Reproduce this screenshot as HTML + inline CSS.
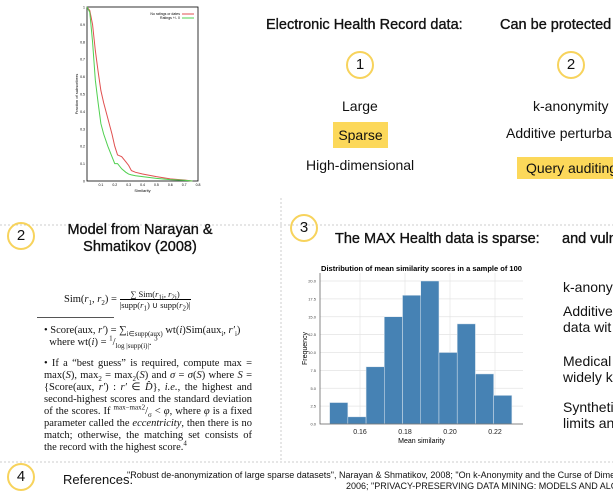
<!DOCTYPE html>
<html><head><meta charset="utf-8"><style>
body{margin:0;width:613px;height:490px;background:#fff;position:relative;overflow:hidden;font-family:"Liberation Sans",sans-serif;color:#111}
.a{position:absolute;white-space:nowrap}
.clip{overflow:hidden}
.c{position:absolute;width:24px;height:24px;border:2px solid #f7d35c;border-radius:50%;text-align:center;line-height:24px;font-size:15px;box-sizing:content-box}
.hl{background:#fcd85a}
.h{font-size:14.5px;-webkit-text-stroke:0.35px #111}
.ser{font-family:"Liberation Serif",serif;font-size:10.5px;line-height:12px}
.ser sub,.ser sup{font-size:7px;line-height:0}
</style></head><body>
<svg class="a" style="left:0;top:0" width="613" height="490">
<line x1="281" y1="198" x2="281" y2="462" stroke="#ccc" stroke-dasharray="2,2"/>
<line x1="0" y1="225" x2="613" y2="225" stroke="#ccc" stroke-dasharray="2,2"/>
<line x1="0" y1="462" x2="613" y2="462" stroke="#ccc" stroke-dasharray="2,2"/>
</svg>

<svg id="cdf" class="a" style="left:70px;top:0" width="140" height="195"></svg>

<div class="a h" style="left:266px;top:17px">Electronic Health Record data:</div>
<div class="a h clip" style="left:500px;top:17px;width:113px">Can be protected w</div>
<div class="c" style="left:346px;top:51px">1</div>
<div class="c" style="left:557px;top:51px">2</div>
<div class="a" style="left:342px;top:98px;font-size:14px">Large</div>
<div class="a hl" style="left:333px;top:122px;width:55px;height:26px;line-height:26px;text-align:center;font-size:14px">Sparse</div>
<div class="a" style="left:306px;top:157px;font-size:14px">High-dimensional</div>
<div class="a" style="left:533px;top:98px;font-size:14px">k-anonymity</div>
<div class="a clip" style="left:506px;top:125px;width:107px;font-size:14px">Additive perturba</div>
<div class="a hl clip" style="left:517px;top:157px;width:96px;height:22px;line-height:22px;font-size:14px;padding-left:9px;box-sizing:border-box">Query auditing</div>

<div class="c" style="left:7px;top:222px">2</div>
<div class="a h" style="left:60px;top:222px;width:160px;text-align:center;line-height:17px;white-space:normal">Model from Narayan &amp; Shmatikov (2008)</div>
<div class="a ser" style="left:64px;top:289px">Sim(<i>r</i><sub>1</sub>, <i>r</i><sub>2</sub>) = <span style="display:inline-block;text-align:center;vertical-align:middle;font-size:8.5px;line-height:10px"><span style="border-bottom:1px solid #000;display:block">∑ Sim(<i>r</i><sub>1i</sub>, <i>r</i><sub>2i</sub>)</span>|supp(<i>r</i><sub>1</sub>) ∪ supp(<i>r</i><sub>2</sub>)|</span></div>
<div class="a" style="left:37px;top:317px;width:77px;border-top:1px solid #555"></div>
<div class="a ser" style="left:44px;top:325px;width:208px;white-space:normal">• Score(aux, <i>r′</i>) = ∑<sub>i∈supp(aux)</sub> wt(<i>i</i>)Sim(aux<sub>i</sub>, <i>r′</i><sub>i</sub>)<br>&nbsp;&nbsp;where wt(<i>i</i>) = <sup>1</sup>/<sub>log |supp(i)|</sub>. <sup>3</sup></div>
<div class="a ser" style="left:44px;top:358px;width:208px;white-space:normal;text-align:justify">• If a “best guess” is required, compute max = max(<i>S</i>), max<sub>2</sub> = max<sub>2</sub>(<i>S</i>) and <i>σ</i> = <i>σ</i>(<i>S</i>) where <i>S</i> = {Score(aux, <i>r′</i>) : <i>r′</i> ∈ <i>D̂</i>}, <i>i.e.</i>, the highest and second-highest scores and the standard deviation of the scores. If <sup>max−max2</sup>/<sub>σ</sub> &lt; <i>φ</i>, where <i>φ</i> is a fixed parameter called the <i>eccentricity</i>, then there is no match; otherwise, the matching set consists of the record with the highest score.<sup>4</sup></div>

<div class="c" style="left:290px;top:214px">3</div>
<div class="a h" style="left:335px;top:231px">The MAX Health data is sparse:</div>
<div class="a h clip" style="left:562px;top:231px;width:51px">and vuln</div>

<svg id="hist" class="a" style="left:295px;top:258px" width="245" height="190"></svg>

<div class="a clip" style="left:563px;top:279px;width:50px;font-size:14px">k-anony</div>
<div class="a clip" style="left:563px;top:303px;width:50px;font-size:14px;line-height:16px">Additive<br>data wit</div>
<div class="a clip" style="left:563px;top:353px;width:50px;font-size:14px;line-height:16px">Medical<br>widely k</div>
<div class="a clip" style="left:563px;top:399px;width:50px;font-size:14px;line-height:16px">Syntheti<br>limits an</div>

<div class="c" style="left:7px;top:463px">4</div>
<div class="a" style="left:63px;top:472px;font-size:13px">References:</div>
<div class="a clip" style="left:127px;top:470px;width:486px;font-size:9px">"Robust de-anonymization of large sparse datasets", Narayan &amp; Shmatikov, 2008; "On k-Anonymity and the Curse of Dimensionality"</div>
<div class="a clip" style="left:346px;top:481px;width:267px;font-size:9px">2006; "PRIVACY-PRESERVING DATA MINING: MODELS AND ALGORITHMS"</div>

<script>
// CDF chart data
const cdfX=[0,0.02,0.04,0.06,0.08,0.1,0.12,0.15,0.18,0.2,0.22,0.25,0.28,0.3,0.32,0.35,0.4,0.5,0.6,0.7,0.76];
const cdfRed=[1,0.98,0.9,0.75,0.63,0.52,0.45,0.36,0.27,0.2,0.15,0.14,0.11,0.09,0.06,0.05,0.04,0.025,0.012,0.006,0];
const cdfGreen=[1,0.97,0.8,0.58,0.45,0.33,0.27,0.2,0.14,0.1,0.1,0.07,0.05,0.04,0.035,0.03,0.025,0.015,0.008,0.004,0];
const cdfTicksX=[0.1,0.2,0.3,0.4,0.5,0.6,0.7,0.8];
const cdfTicksY=[0,0.1,0.2,0.3,0.4,0.5,0.6,0.7,0.8,0.9,1];
const NS='http://www.w3.org/2000/svg';
function mk(svg,t,a,txt){const e=document.createElementNS(NS,t);for(const k in a)e.setAttribute(k,a[k]);if(txt!==undefined)e.textContent=txt;svg.appendChild(e);return e;}
(function(){
const s=document.getElementById('cdf');const L=17,R=128,T=7,B=181;
const X=v=>L+v/0.8*(R-L),Y=v=>B-v*(B-T);
const f=mk(s,'rect',{x:L,y:T,width:R-L,height:B-T,fill:'none',stroke:'#000','stroke-width':0.8});

cdfTicksY.forEach(v=>{const t=mk(s,'text',{x:L-2,y:Y(v)+1.5,'font-size':3.5,'text-anchor':'end'},String(v));});
cdfTicksX.forEach(v=>{const t=mk(s,'text',{x:X(v),y:B+5,'font-size':3.5,'text-anchor':'middle'},String(v));});
const xl=mk(s,'text',{x:(L+R)/2,y:B+11,'font-size':4,'text-anchor':'middle'},'Similarity');
const yl=mk(s,'text',{x:0,y:0,'font-size':4,'text-anchor':'middle',transform:`translate(${L-9},${(T+B)/2}) rotate(-90)`},'Fraction of subscribers');
const pr=mk(s,'polyline',{points:cdfX.map((x,i)=>X(x)+','+Y(cdfRed[i])).join(' '),fill:'none',stroke:'#e05050','stroke-width':1});

const pg=mk(s,'polyline',{points:cdfX.map((x,i)=>X(x)+','+Y(cdfGreen[i])).join(' '),fill:'none',stroke:'#50d050','stroke-width':1});

const l1=mk(s,'text',{x:R-18,y:T+8,'font-size':3.5,'text-anchor':'end'},'No ratings or dates');
const l2=mk(s,'text',{x:R-18,y:T+12,'font-size':3.5,'text-anchor':'end'},'Ratings +/- 0');
mk(s,'line',{x1:R-16,x2:R-4,y1:T+7,y2:T+7,stroke:'#e05050'});mk(s,'line',{x1:R-16,x2:R-4,y1:T+11,y2:T+11,stroke:'#50d050'});
})();

// Histogram data
const binEdges=[0.1465,0.1546,0.1627,0.1708,0.1789,0.1870,0.1951,0.2032,0.2113,0.2194,0.2275];
const counts=[3,1,8,15,18,20,10,14,7,4];
const yTicks=[0,2.5,5,7.5,10,12.5,15,17.5,20];
const xTicks=[0.16,0.18,0.20,0.22];
(function(){
const s=document.getElementById('hist');const ox=295,oy=258;
const L=320-ox,R=523-ox,T=273-oy,B=424-oy;
const X=v=>(360-ox)+(v-0.16)/0.01*22.5;const Y=v=>(424-oy)-v/20*(424-281);
const t=mk(s,'text',{x:(L+R)/2,y:268-oy+3,'font-size':7.5,'font-weight':'bold','text-anchor':'middle'},'Distribution of mean similarity scores in a sample of 100');

yTicks.forEach(v=>{const g=mk(s,'line',{x1:L,x2:R,y1:Y(v),y2:Y(v),stroke:'#e4e4e4','stroke-width':0.7});
const l=mk(s,'text',{x:L-4,y:Y(v)+1.5,'font-size':4,'text-anchor':'end',fill:'#444'},v.toFixed(1));});
xTicks.forEach(v=>{const g=mk(s,'line',{x1:X(v),x2:X(v),y1:T,y2:B,stroke:'#e4e4e4','stroke-width':0.7});
const l=mk(s,'text',{x:X(v),y:B+10,'font-size':7,'text-anchor':'middle',fill:'#222'},v.toFixed(2));});
counts.forEach((c,i)=>{const r=mk(s,'rect',{x:X(binEdges[i]),y:Y(c),width:X(binEdges[i+1])-X(binEdges[i]),height:Y(0)-Y(c),fill:'#4682b4',stroke:'#dfe8f0','stroke-width':0.5});
});
const ax=mk(s,'path',{d:`M${L},${T} V${B} H${R}`,fill:'none',stroke:'#666','stroke-width':0.8});
const xl=mk(s,'text',{x:(L+R)/2,y:B+19,'font-size':7,'text-anchor':'middle'},'Mean similarity');
const yl=mk(s,'text',{x:0,y:0,'font-size':7,'text-anchor':'middle',transform:`translate(${L-13},${(T+B)/2}) rotate(-90)`},'Frequency');
})();
</script>
</body></html>
